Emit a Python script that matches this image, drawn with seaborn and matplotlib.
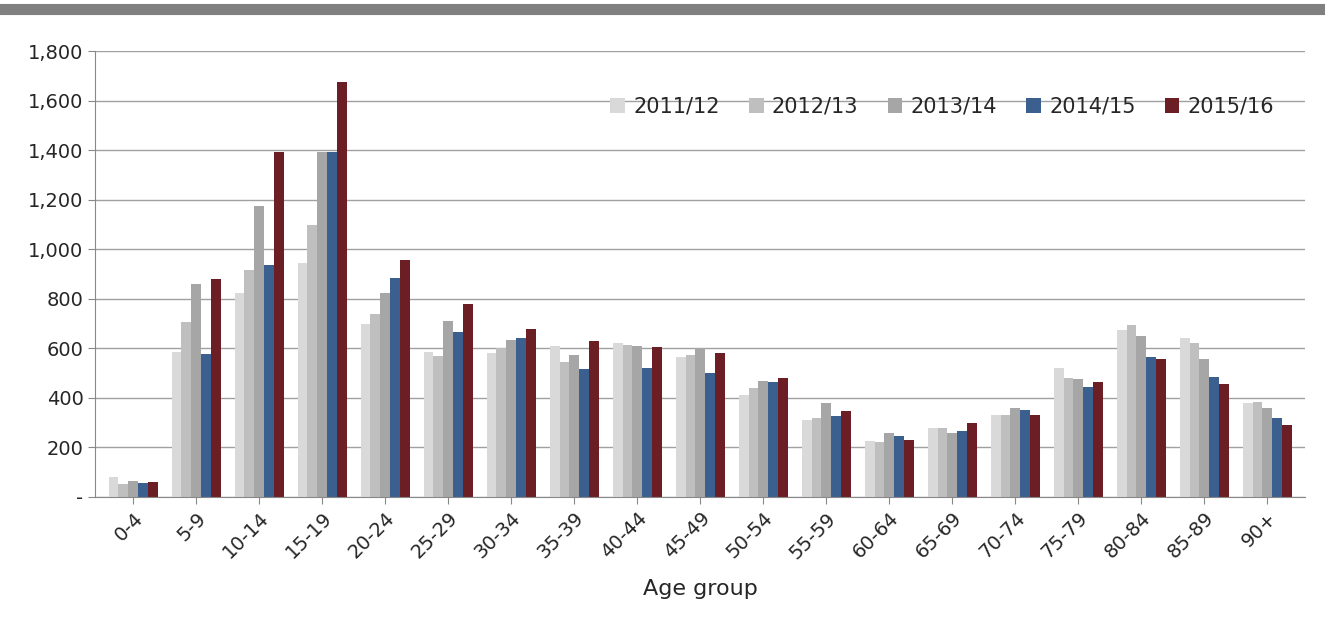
import numpy as np
import pandas as pd
import matplotlib
matplotlib.use("Agg")
import matplotlib.pyplot as plt
import seaborn as sns
from matplotlib.ticker import FuncFormatter

ages = ["0-4", "5-9", "10-14", "15-19", "20-24", "25-29", "30-34", "35-39",
        "40-44", "45-49", "50-54", "55-59", "60-64", "65-69", "70-74",
        "75-79", "80-84", "85-89", "90+"]
years = ["2011/12", "2012/13", "2013/14", "2014/15", "2015/16"]

y2011 = [80, 585, 825, 945, 700, 585, 580, 610, 620, 565, 410, 310, 225, 280, 330, 520, 675, 640, 380]
y2012 = [50, 705, 915, 1100, 740, 570, 600, 545, 615, 575, 440, 320, 220, 280, 330, 480, 695, 620, 385]
y2013 = [65, 860, 1175, 1395, 825, 710, 635, 575, 610, 600, 470, 380, 260, 260, 360, 475, 650, 555, 360]
y2014 = [55, 578, 935, 1395, 885, 665, 640, 515, 520, 500, 465, 325, 245, 265, 350, 445, 565, 485, 320]
y2015 = [60, 880, 1395, 1675, 955, 780, 680, 630, 605, 580, 480, 345, 230, 300, 330, 465, 555, 455, 290]

colors = ["#d9d9d9", "#bfbfbf", "#a6a6a6", "#3b5f8e", "#6b1f24"]

df = pd.DataFrame({"age": ages * 5,
                   "year": np.repeat(years, len(ages)),
                   "value": y2011 + y2012 + y2013 + y2014 + y2015})

sns.set_style("white")
fig = plt.figure(figsize=(13.25, 6.25), dpi=100)
ax = fig.add_axes([0.072, 0.205, 0.913, 0.713])
sns.barplot(data=df, x="age", y="value", hue="year", palette=colors,
            width=0.78, ax=ax, saturation=1, edgecolor="none")

ax.set_ylim(0, 1800)
ax.set_yticks(range(0, 1801, 200))
ax.yaxis.set_major_formatter(FuncFormatter(lambda v, p: "-" if v == 0 else f"{int(v):,}"))
ax.grid(axis="y", color="#a0a0a0", lw=1)
ax.set_axisbelow(True)
for s in ["top", "right"]:
    ax.spines[s].set_visible(False)
ax.spines["left"].set_color("#888888")
ax.spines["bottom"].set_color("#888888")
ax.tick_params(axis="x", rotation=45, labelsize=14, length=5, color="#888888", bottom=True)
ax.tick_params(axis="y", labelsize=14, length=5, color="#888888", left=True)
for t in ax.get_xticklabels():
    t.set_ha("right")
    t.set_rotation_mode("anchor")
ax.set_ylabel("")
ax.set_xlabel("Age group", fontsize=16, labelpad=12)
ax.set_xlim(-0.6, len(ages) - 0.4)
ax.legend(loc="upper right", bbox_to_anchor=(0.99, 0.94), ncol=5, frameon=False,
          fontsize=15, handlelength=0.7, handleheight=0.7, columnspacing=1.4,
          handletextpad=0.4)

fig.add_artist(plt.Line2D([0, 1], [0.985, 0.985], color="#808080", lw=8,
                          transform=fig.transFigure))
fig.savefig("out.png", dpi=100)
